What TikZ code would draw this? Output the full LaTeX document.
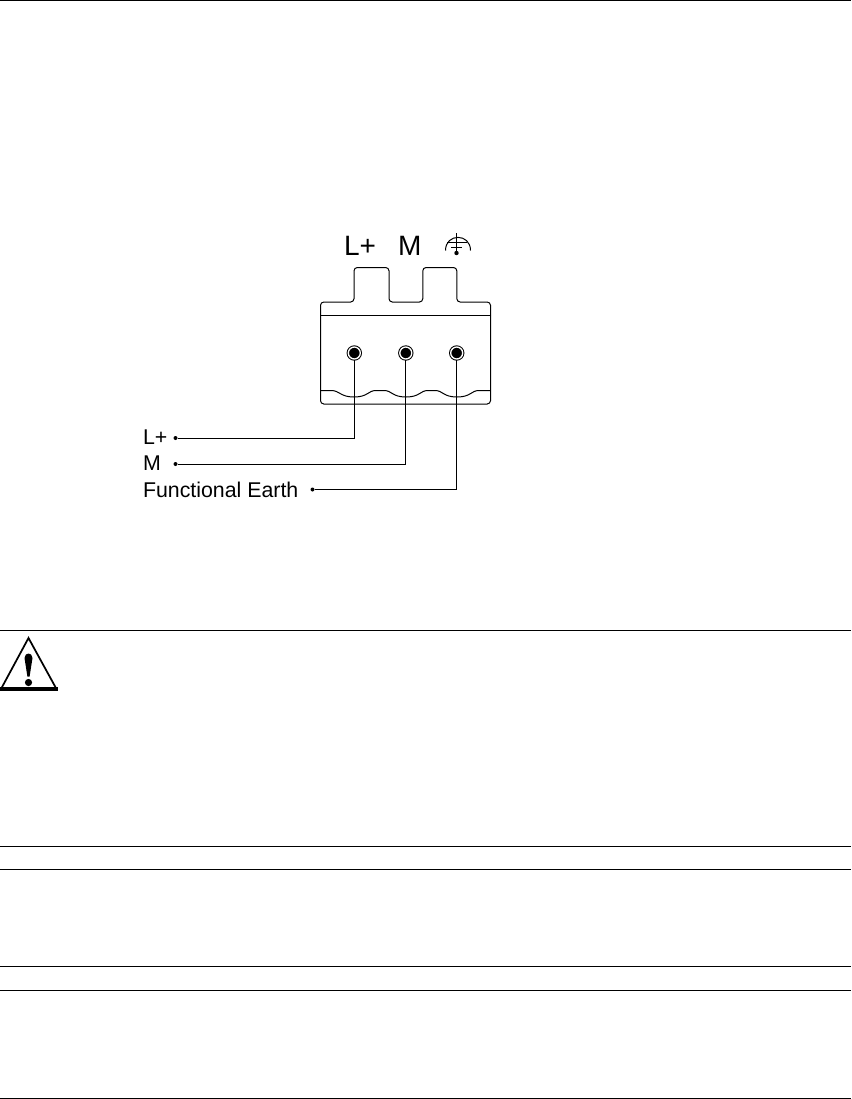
\documentclass[tikz,border=0pt]{standalone}
\usepackage{fontspec}
\setmainfont{Liberation Sans}
\tikzset{
    pinhole/.style={draw,circle,fill=black,line width=0.75pt,inner sep=0pt,minimum size=9pt,double=white,double distance=1pt},
    enddot/.style={circle,fill=black,inner sep=0pt,minimum size=3pt},
    wirelabel/.style={anchor=base west,inner sep=0pt,font=\fontsize{16}{16}\selectfont},
    headlabel/.style={anchor=base west,inner sep=0pt,font=\fontsize{21}{21}\selectfont},
    rule/.style={line width=0.75pt}
}
\begin{document}
\begin{tikzpicture}[x=0.75pt,y=-0.75pt,line width=0.75pt]
    \useasboundingbox (0,0) rectangle (851,1099);
    % page rules
    \foreach \y in {0.5,630,846,869,966,990,1098}{
        \draw[rule] (0,\y) -- (851,\y);
    }
    % warning sign
    \draw[line width=1.3pt,line join=miter] (1,689) -- (28.5,638) -- (56.5,689);
    \draw[line width=2.4pt] (0,689) -- (57.5,689);
    \fill (24.5,658) .. controls (24.7,652) and (32.3,652) .. (32.5,658) -- (29.6,676.5) -- (27.4,676.5) -- cycle;
    \fill (28.5,682.5) circle (3.6);
    % heading
    \node[headlabel] (headL) at (343.5,255.5) {L+};
    \node[headlabel] (headM) at (397.5,255.5) {M};
    % earth symbol
    \draw (445.5,250.5) .. controls (445.5,233) and (470.5,233) .. (470.5,250.5);
    \draw (456.5,233) -- (456.5,253);
    \draw (447,242) -- (467,242);
    \draw (451,247) -- (462,247);
    \fill (456.5,253) circle (2.2);
    % connector body
    \draw[rounded corners=2.5] (320.5,315) -- (320.5,302) -- (354,302) -- (354,267.5) -- (389,267.5) -- (389,302)
        -- (422.8,302) -- (422.8,267.5) -- (456.8,267.5) -- (456.8,302) -- (490.5,302) -- (490.5,315);
    \draw (320.5,315) -- (490.5,315);
    \draw[rounded corners=2.5] (320.5,315) -- (320.5,404) -- (490.5,404) -- (490.5,315);
    \draw (320.5,390.5) -- (331,390.5)
        .. controls (340,390.5) and (340,397) .. (354,397) .. controls (368,397) and (368,390.5) .. (376,390.5) -- (384,390.5)
        .. controls (392,390.5) and (392,397) .. (406,397) .. controls (420,397) and (420,390.5) .. (428,390.5) -- (435,390.5)
        .. controls (443,390.5) and (443,397) .. (457,397) .. controls (471,397) and (471,390.5) .. (479,390.5) -- (490.5,390.5);
    % pins and wires
    \foreach \n/\x in {plus/354.3,mass/405.8,earth/456.7}{
        \node[pinhole] (\n) at (\x,353) {};
    }
    \node[enddot] (dplus) at (175.5,438) {};
    \node[enddot] (dmass) at (175.5,464) {};
    \node[enddot] (dearth) at (312.5,489.5) {};
    \foreach \a/\b in {plus/dplus,mass/dmass,earth/dearth}{
        \draw (\a) |- (\b);
    }
    \node[wirelabel] (lplus) at (142.5,444) {L+};
    \node[wirelabel] (lmass) at (142.5,470) {M};
    \node[wirelabel] (learth) at (142.5,497) {Functional Earth};
\end{tikzpicture}
\end{document}
